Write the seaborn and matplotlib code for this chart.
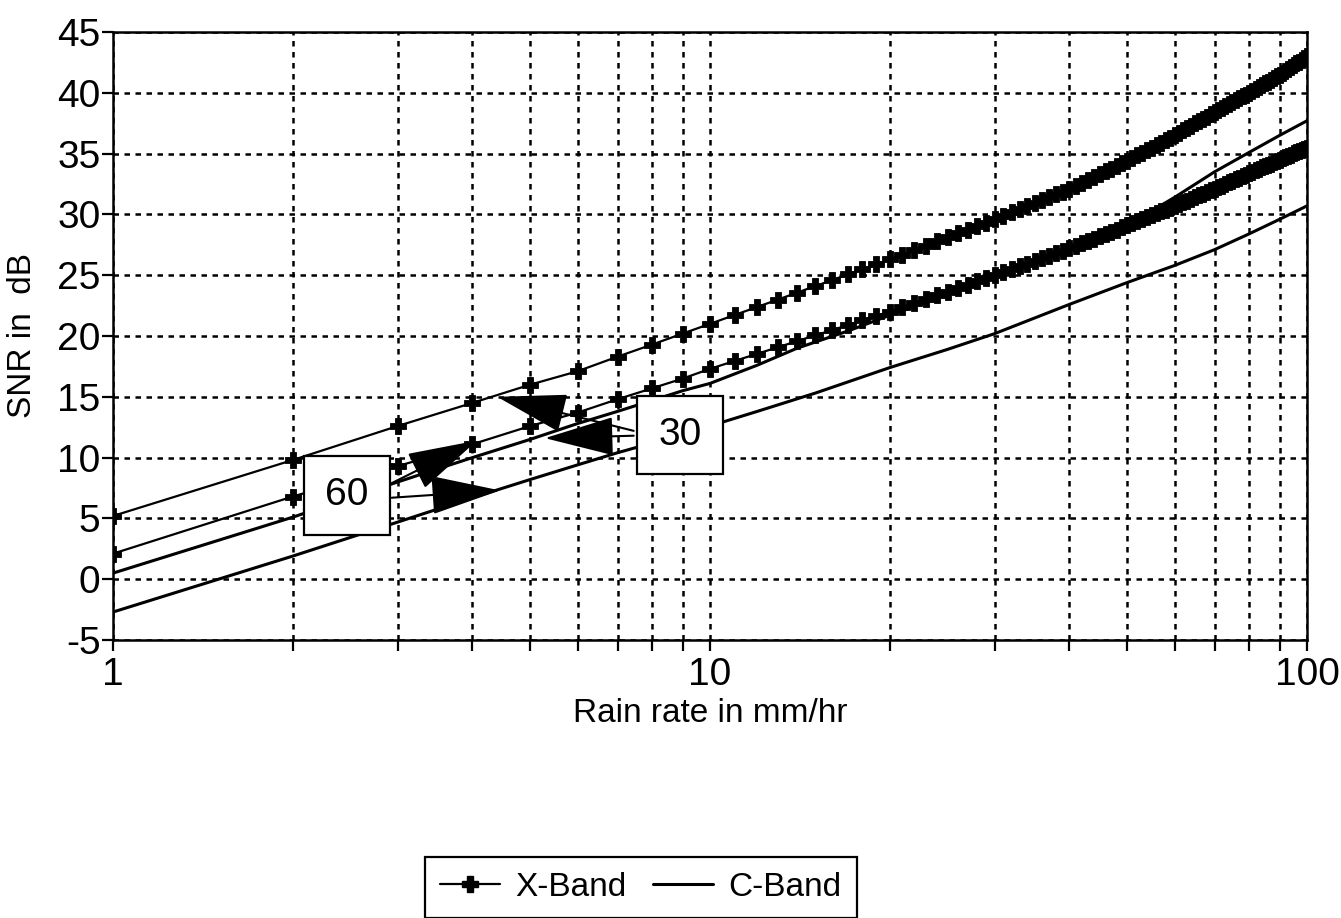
import matplotlib
matplotlib.use("Agg")
import matplotlib.pyplot as plt
import seaborn as sns
import pandas as pd
from matplotlib.lines import Line2D

# ---------------- data ----------------
rain_x = list(range(1, 101))

x_band_30 = [5.2, 9.8, 12.6, 14.5, 16.0, 17.1, 18.3, 19.3, 20.2, 21.0,
             21.73, 22.39, 23.0, 23.57, 24.1, 24.59, 25.06, 25.49, 25.91, 26.3,
             26.7, 27.08, 27.44, 27.78, 28.12, 28.44, 28.74, 29.04, 29.32, 29.6,
             29.89, 30.16, 30.43, 30.69, 30.94, 31.18, 31.42, 31.65, 31.88, 32.1,
             32.35, 32.6, 32.84, 33.08, 33.31, 33.54, 33.76, 33.97, 34.19, 34.4,
             34.63, 34.85, 35.07, 35.29, 35.5, 35.7, 35.91, 36.11, 36.31, 36.5,
             36.7, 36.9, 37.1, 37.3, 37.49, 37.67, 37.86, 38.04, 38.22, 38.4,
             38.57, 38.74, 38.9, 39.07, 39.23, 39.39, 39.54, 39.7, 39.85, 40.0,
             40.16, 40.31, 40.47, 40.62, 40.77, 40.92, 41.07, 41.22, 41.36, 41.5,
             41.66, 41.81, 41.97, 42.12, 42.27, 42.42, 42.57, 42.71, 42.86, 43.0]

x_band_60 = [2.1, 6.8, 9.3, 11.1, 12.6, 13.7, 14.8, 15.7, 16.5, 17.3,
             17.95, 18.54, 19.08, 19.58, 20.05, 20.48, 20.89, 21.28, 21.65, 22.0,
             22.36, 22.71, 23.03, 23.35, 23.65, 23.94, 24.22, 24.49, 24.75, 25.0,
             25.25, 25.49, 25.73, 25.96, 26.18, 26.39, 26.6, 26.81, 27.01, 27.2,
             27.41, 27.61, 27.82, 28.01, 28.2, 28.39, 28.57, 28.75, 28.93, 29.1,
             29.27, 29.44, 29.61, 29.77, 29.94, 30.09, 30.25, 30.4, 30.55, 30.7,
             30.85, 31.0, 31.14, 31.29, 31.43, 31.56, 31.7, 31.83, 31.97, 32.1,
             32.24, 32.37, 32.51, 32.64, 32.77, 32.9, 33.03, 33.15, 33.28, 33.4,
             33.52, 33.63, 33.74, 33.86, 33.97, 34.08, 34.18, 34.29, 34.4, 34.5,
             34.6, 34.71, 34.81, 34.91, 35.01, 35.11, 35.21, 35.31, 35.4, 35.5]

rain_c30 = [1, 2, 3, 4, 5, 6, 7, 8, 9, 10, 12, 14, 17, 20, 25, 30, 40, 50, 60, 70, 80, 90, 100]
c_band_30 = [0.5, 5.1, 8.0, 10.0, 11.5, 12.8, 13.8, 14.7, 15.5, 16.1, 17.6, 19.0, 20.4,
             21.7, 23.4, 24.9, 27.1, 29.1, 31.4, 33.5, 35.1, 36.5, 37.7]

rain_c60 = [1, 2, 3, 4, 5, 6, 7, 8, 9, 10, 12, 15, 20, 25, 30, 40, 50, 60, 70, 80, 90, 100]
c_band_60 = [-2.7, 1.9, 4.7, 6.7, 8.2, 9.4, 10.4, 11.2, 12.0, 12.6, 13.8, 15.3, 17.4,
             18.9, 20.2, 22.6, 24.4, 25.8, 27.1, 28.4, 29.6, 30.7]

y_ticks = [-5, 0, 5, 10, 15, 20, 25, 30, 35, 40, 45]
x_ticks = [1, 10, 100]
x_minor = [2, 3, 4, 5, 6, 7, 8, 9, 20, 30, 40, 50, 60, 70, 80, 90]
series_names = ["X-Band", "C-Band"]
box_labels = ["60", "30"]

# ---------------- style ----------------
sns.set_theme(style="white")
plt.rcParams["font.family"] = ["Liberation Sans", "DejaVu Sans"]
plt.rcParams["text.color"] = "black"
plt.rcParams["axes.labelcolor"] = "black"
plt.rcParams["legend.labelcolor"] = "black"

fig = plt.figure(figsize=(13.41, 9.18), dpi=100)
ax = fig.add_axes([113 / 1341, 1 - 640 / 918, (1307 - 113) / 1341, (640 - 32) / 918])

dfx30 = pd.DataFrame({"rain": rain_x, "snr": x_band_30})
dfx60 = pd.DataFrame({"rain": rain_x, "snr": x_band_60})
dfc30 = pd.DataFrame({"rain": rain_c30, "snr": c_band_30})
dfc60 = pd.DataFrame({"rain": rain_c60, "snr": c_band_60})

xkw = dict(color="black", lw=1.6, marker="P", markersize=12,
           markeredgecolor="black", markeredgewidth=0.6, zorder=4)
ckw = dict(color="black", lw=2.2, zorder=3)

sns.lineplot(data=dfc30, x="rain", y="snr", ax=ax, **ckw)
sns.lineplot(data=dfc60, x="rain", y="snr", ax=ax, **ckw)
sns.lineplot(data=dfx30, x="rain", y="snr", ax=ax, **xkw)
sns.lineplot(data=dfx60, x="rain", y="snr", ax=ax, **xkw)

ax.set_xscale("log")
ax.set_xlim(1, 100)
ax.set_ylim(-5, 45)
ax.set_yticks(y_ticks)
ax.set_yticklabels([str(v) for v in y_ticks])
ax.set_xticks(x_ticks)
ax.set_xticklabels([str(v) for v in x_ticks])
ax.set_xticks(x_minor, minor=True)
ax.xaxis.set_minor_formatter(matplotlib.ticker.NullFormatter())

ax.tick_params(axis="both", which="both", direction="out", length=8, width=1.6,
               color="black", labelsize=28, labelcolor="black", bottom=True, left=True)
ax.tick_params(axis="y", pad=1)
ax.tick_params(axis="x", pad=4)

grid_kw = dict(color="black", lw=1.8, linestyle=(0, (2.2, 2.2)))
ax.grid(True, which="major", axis="y", **grid_kw)
ax.grid(True, which="both", axis="x", **grid_kw)
ax.set_axisbelow(True)

for s in ax.spines.values():
    s.set_color("black")
    s.set_linewidth(1.8)
    s.set_visible(True)

ax.set_xlabel("Rain rate in mm/hr", fontsize=24, color="black", labelpad=4)
ax.set_ylabel("SNR in  dB", fontsize=24, color="black", labelpad=14)

# ---------------- annotation boxes and arrows ----------------
bbox_kw = dict(boxstyle="square,pad=0.55", fc="white", ec="black", lw=1.6)
ax.text(2.466, 6.9, box_labels[0], fontsize=28, ha="center", va="center",
        color="black", bbox=bbox_kw, zorder=10)
ax.text(8.91, 11.85, box_labels[1], fontsize=28, ha="center", va="center",
        color="black", bbox=bbox_kw, zorder=10)

arrow_kw = dict(arrowstyle="-|>,head_length=1.5,head_width=0.42", color="black",
                lw=1.5, mutation_scale=30, shrinkA=0, shrinkB=0)
for (xt, yt), (xs, ys) in [((4.07, 11.4), (2.93, 7.9)),
                           ((4.45, 7.3), (2.93, 6.7)),
                           ((4.4, 15.0), (7.45, 12.2)),
                           ((5.29, 11.6), (7.45, 11.8))]:
    ax.annotate("", xy=(xt, yt), xytext=(xs, ys), arrowprops=arrow_kw, zorder=9)

# ---------------- legend ----------------
handles = [Line2D([], [], color="black", lw=1.6, marker="P", markersize=11),
           Line2D([], [], color="black", lw=2.2)]
leg = fig.legend(handles, series_names, loc="upper center",
                 bbox_to_anchor=(641 / 1341, 1 - 857 / 918), ncol=2, fontsize=24,
                 frameon=True, fancybox=False, edgecolor="black", framealpha=1,
                 handlelength=1.8, handletextpad=0.45, columnspacing=0.8,
                 borderpad=0.45, borderaxespad=0)
leg.get_frame().set_linewidth(1.6)
for t in leg.get_texts():
    t.set_color("black")

fig.savefig("out.png", dpi=100)
